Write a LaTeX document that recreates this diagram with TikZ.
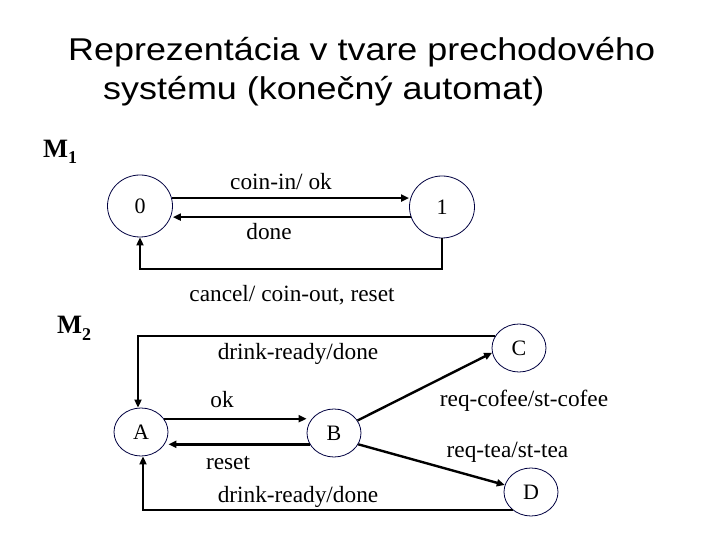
\documentclass[tikz,border=0pt]{standalone}
\usepackage{fontspec}
\setmainfont{Liberation Serif}
\newfontfamily\titlefont[FakeStretch=1.14]{Liberation Sans}
\usetikzlibrary{shapes.geometric,arrows.meta}
\begin{document}
\begin{tikzpicture}[x=1pt,y=1pt,
  st/.style={ellipse,draw=black!75!blue,line width=0.8pt,inner sep=0pt,font=\fontsize{22}{22}\selectfont},
  bigst/.style={st,minimum width=65pt,minimum height=62pt},
  smst/.style={st,minimum width=54pt,minimum height=48pt},
  edge/.style={line width=2.4pt,-{Triangle[length=8pt,width=7pt]}},
  loopedge/.style={edge,line width=1.8pt},
  lbl/.style={anchor=base,inner sep=0pt,font=\fontsize{23.3}{23.3}\selectfont},
  ttl/.style={anchor=base west,inner sep=0pt,font=\titlefont\fontsize{31.5}{31.5}\selectfont},
  mlbl/.style={anchor=base west,inner sep=0pt,font=\bfseries\fontsize{26.5}{26.5}\selectfont}]
\useasboundingbox (0,0) rectangle (720,540);
% title
\node[ttl] (t1) at (68,479) {Reprezentácia v tvare prechodového};
\node[ttl] (t2) at (103,440) {systému (konečný automat)};
% machine labels
\node[mlbl] (m1) at (43,382) {M\raisebox{-6pt}{\fontsize{18}{18}\selectfont 1}};
\node[mlbl] (m2) at (57,206) {M\raisebox{-7pt}{\fontsize{18}{18}\selectfont 2}};
% M1
\node[bigst] (s0) at (140,334) {0};
\node[bigst] (s1) at (442,333) {1};
\draw[edge] (s0.14) -- (s0.14 -| s1.west);
\draw[edge] (s1.198) -- (s1.198 -| s0.east);
\coordinate (l1) at (140,271);
\draw[loopedge] (s1.south) |- (l1) -- (s0.south);
\node[lbl] (lci) at (281,350.5) {coin-in/ ok};
\node[lbl] (ldn) at (269,300) {done};
\node[lbl] (lcn) at (292,238) {cancel/ coin-out, reset};
% M2
\node[smst] (A) at (141,108) {A};
\node[smst] (B) at (334,107) {B};
\node[smst] (C) at (519,192) {C};
\node[smst] (D) at (531,48) {D};
\draw[edge] (A.30) -- (A.30 -| B.west);
\draw[edge] (B.205) -- (B.205 -| A.east);
\draw[loopedge] (C.153) -| ([xshift=-3pt]A.north);
\draw[loopedge] (D.225) -| ([xshift=2pt]A.south);
\draw[edge] (B.28) -- (C.190);
\draw[edge] (B.-25) -- (D.165);
\node[lbl] (ldr1) at (298,180) {drink-ready/done};
\node[lbl] (lok) at (222,132) {ok};
\node[lbl] (lrs) at (228,70) {reset};
\node[lbl] (ldr2) at (298,37) {drink-ready/done};
\node[lbl] (lrc) at (524,133) {req-cofee/st-cofee};
\node[lbl] (lrt) at (507.5,82) {req-tea/st-tea};
\end{tikzpicture}
\end{document}
